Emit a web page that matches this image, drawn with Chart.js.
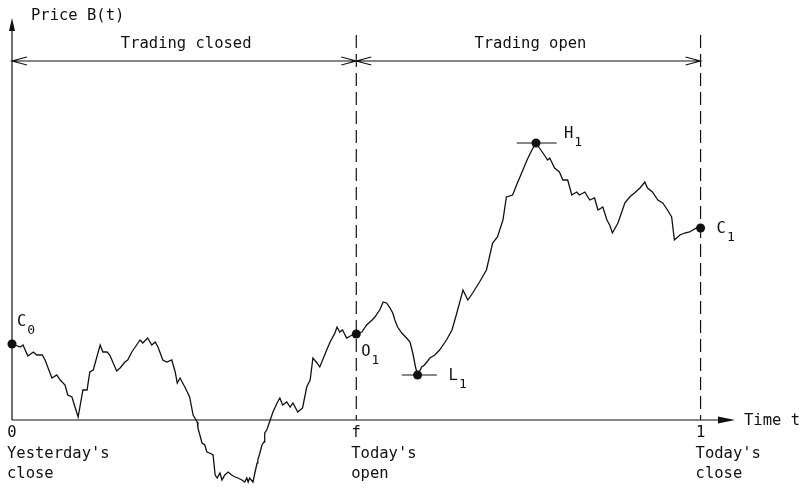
<!DOCTYPE html>
<html>
<head>
<meta charset="utf-8">
<style>
  body { margin: 0; background: #fff; }
</style>
</head>
<body>
<canvas id="priceChart" width="801" height="491"></canvas>
<script src="https://cdnjs.cloudflare.com/ajax/libs/Chart.js/4.4.1/chart.umd.min.js"></script>
<script>
// price path
// t: fraction of a day (0 = yesterday's close, f = 0.5 today's open, 1 = today's close)
var pathT = [0, 0.012, 0.016, 0.023, 0.031, 0.036, 0.044, 0.048, 0.058, 0.065,
  0.070, 0.077, 0.081, 0.087, 0.096, 0.103, 0.109, 0.113, 0.118, 0.128,
  0.132, 0.138, 0.142, 0.152, 0.157, 0.164, 0.168, 0.174, 0.181, 0.186,
  0.190, 0.197, 0.203, 0.208, 0.212, 0.219, 0.225, 0.232, 0.237, 0.240,
  0.244, 0.251, 0.258, 0.263, 0.269, 0.270, 0.276, 0.280, 0.283, 0.287,
  0.292, 0.295, 0.298, 0.302, 0.305, 0.309, 0.314, 0.319, 0.324, 0.328,
  0.334, 0.338, 0.341, 0.343, 0.345, 0.350, 0.353, 0.356, 0.357, 0.360,
  0.363, 0.366, 0.367, 0.370, 0.375, 0.379, 0.385, 0.389, 0.393, 0.399,
  0.404, 0.408, 0.415, 0.422, 0.428, 0.433, 0.437, 0.443, 0.447, 0.457,
  0.462, 0.469, 0.472, 0.476, 0.480, 0.486, 0.494, 0.500,
  0.508, 0.515, 0.523, 0.527, 0.534, 0.539, 0.544, 0.549, 0.553, 0.556,
  0.560, 0.566, 0.573, 0.578, 0.582, 0.586, 0.589,
  0.595, 0.599, 0.607, 0.614, 0.621, 0.631, 0.639, 0.646, 0.655, 0.662,
  0.669, 0.679, 0.689, 0.698, 0.705, 0.713, 0.718, 0.727, 0.734, 0.742,
  0.748, 0.755, 0.761,
  0.766, 0.771, 0.778, 0.781, 0.788, 0.795, 0.800, 0.807, 0.813, 0.820,
  0.824, 0.832, 0.839, 0.846, 0.851, 0.858, 0.864, 0.868, 0.872, 0.880,
  0.890, 0.897, 0.904, 0.912, 0.919, 0.923, 0.930, 0.938, 0.945, 0.952,
  0.958, 0.962, 0.970, 0.977, 0.984, 0.994, 1.000];
var pathB = [0.76, 0.73, 0.75, 0.64, 0.68, 0.65, 0.65, 0.60, 0.42, 0.45,
  0.40, 0.35, 0.25, 0.23, 0.03, 0.30, 0.30, 0.48, 0.50, 0.75,
  0.68, 0.68, 0.65, 0.49, 0.52, 0.58, 0.60, 0.68, 0.75, 0.80,
  0.77, 0.82, 0.75, 0.78, 0.73, 0.60, 0.58, 0.60, 0.48, 0.37,
  0.42, 0.33, 0.23, 0.05, -0.02, -0.08, -0.23, -0.25, -0.32, -0.33,
  -0.35, -0.55, -0.58, -0.53, -0.60, -0.55, -0.52, -0.55, -0.57, -0.58,
  -0.60, -0.62, -0.58, -0.62, -0.58, -0.62, -0.52, -0.43, -0.40, -0.33,
  -0.25, -0.22, -0.13, -0.10, 0.00, 0.08, 0.17, 0.22, 0.15, 0.18,
  0.13, 0.17, 0.08, 0.12, 0.33, 0.40, 0.62, 0.57, 0.53, 0.70,
  0.78, 0.87, 0.93, 0.88, 0.90, 0.82, 0.85, 0.86,
  0.88, 0.95, 1.00, 1.03, 1.10, 1.18, 1.17, 1.12, 1.07, 1.00,
  0.93, 0.87, 0.82, 0.78, 0.67, 0.53, 0.45,
  0.53, 0.55, 0.62, 0.65, 0.70, 0.80, 0.90, 1.07, 1.30, 1.20,
  1.27, 1.38, 1.50, 1.77, 1.83, 2.00, 2.23, 2.25, 2.37, 2.50,
  2.60, 2.70, 2.77,
  2.72, 2.67, 2.60, 2.62, 2.52, 2.48, 2.40, 2.40, 2.25, 2.28,
  2.25, 2.28, 2.20, 2.22, 2.10, 2.13, 2.00, 1.95, 1.87, 1.97,
  2.17, 2.23, 2.27, 2.32, 2.38, 2.32, 2.28, 2.20, 2.17, 2.10,
  2.03, 1.80, 1.85, 1.87, 1.88, 1.92, 1.92];

// the marked prices: yesterday's close, today's open, low, high, today's close
var markNames = ['C', 'O', 'L', 'H', 'C'];
var markSubs = ['0', '1', '1', '1', '1'];
var markT = [0, 0.5, 0.589, 0.761, 1];
var markB = [0.76, 0.86, 0.45, 2.77, 1.92];

// short horizontal bars through the low and the high
var lowBarT = [0.566, 0.617];
var highBarT = [0.733, 0.791];

// time axis ticks
var tickT = [0, 0.5, 1];
var tickLabels = ['0', 'f', '1'];
var tickNotes = [["Yesterday's", 'close'], ["Today's", 'open'], ["Today's", 'close']];

// trading periods along the top
var periodStart = [0, 0.5];
var periodEnd = [0.5, 1];
var periodNames = ['Trading closed', 'Trading open'];
var dividerT = [0.5, 1];

// layout / style (pixels and levels, not data)
var INK = '#111';
var FONT = '15.5px "DejaVu Sans Mono", monospace';
var SUBFONT = '13px "DejaVu Sans Mono", monospace';
var periodLevel = 3.59;
var dividerTop = 3.85;
var labelOffset = [[5, -18], [5, 22], [31, 5], [28, -5], [16, 5]];

var figure = {
  id: 'figure',
  beforeDatasetsDraw: function(chart) {
    var ctx = chart.ctx, xs = chart.scales.x, ys = chart.scales.y;
    var x0 = xs.getPixelForValue(0), y0 = ys.getPixelForValue(0);
    var xEnd = xs.getPixelForValue(xs.max), yTop = ys.getPixelForValue(ys.max);
    ctx.save();
    ctx.strokeStyle = INK;
    ctx.fillStyle = INK;
    ctx.lineWidth = 1.2;

    // axes with filled arrowheads
    ctx.beginPath();
    ctx.moveTo(x0, y0); ctx.lineTo(xEnd - 14, y0);
    ctx.moveTo(x0, y0); ctx.lineTo(x0, yTop + 10);
    ctx.stroke();
    ctx.beginPath();
    ctx.moveTo(xEnd, y0); ctx.lineTo(xEnd - 17, y0 - 3.5); ctx.lineTo(xEnd - 17, y0 + 3.5); ctx.closePath();
    ctx.moveTo(x0, yTop); ctx.lineTo(x0 - 3, yTop + 13); ctx.lineTo(x0 + 3, yTop + 13); ctx.closePath();
    ctx.fill();

    // dashed dividers at open and close
    ctx.setLineDash([13, 6]);
    dividerT.forEach(function(t) {
      var x = xs.getPixelForValue(t);
      ctx.beginPath();
      ctx.moveTo(x, ys.getPixelForValue(dividerTop));
      ctx.lineTo(x, y0);
      ctx.stroke();
    });
    ctx.setLineDash([]);

    // period spans with open arrowheads
    var py = ys.getPixelForValue(periodLevel);
    ctx.lineWidth = 1.1;
    for (var i = 0; i < periodNames.length; i++) {
      var a = xs.getPixelForValue(periodStart[i]), b = xs.getPixelForValue(periodEnd[i]);
      ctx.beginPath();
      ctx.moveTo(a, py); ctx.lineTo(b, py);
      ctx.moveTo(a + 15, py - 4); ctx.lineTo(a, py); ctx.lineTo(a + 15, py + 4);
      ctx.moveTo(b - 15, py - 4); ctx.lineTo(b, py); ctx.lineTo(b - 15, py + 4);
      ctx.stroke();
      ctx.font = FONT;
      ctx.textAlign = 'center';
      ctx.textBaseline = 'alphabetic';
      ctx.fillText(periodNames[i], (a + b) / 2 + 2, py - 13);
    }

    // axis titles
    ctx.textAlign = 'left';
    ctx.fillText('Price B(t)', x0 + 19, yTop + 2);
    ctx.fillText('Time t', xEnd + 9, y0 + 5);

    // tick labels and notes
    for (var k = 0; k < tickT.length; k++) {
      var tx = xs.getPixelForValue(tickT[k]);
      ctx.textAlign = 'center';
      ctx.fillText(tickLabels[k], tx, y0 + 17);
      ctx.textAlign = 'left';
      ctx.fillText(tickNotes[k][0], tx - 5, y0 + 38);
      ctx.fillText(tickNotes[k][1], tx - 5, y0 + 58);
    }
    ctx.restore();
  },
  afterDatasetsDraw: function(chart) {
    var ctx = chart.ctx, xs = chart.scales.x, ys = chart.scales.y;
    ctx.save();
    ctx.fillStyle = INK;
    ctx.textAlign = 'left';
    ctx.textBaseline = 'alphabetic';
    for (var i = 0; i < markNames.length; i++) {
      var x = xs.getPixelForValue(markT[i]) + labelOffset[i][0];
      var y = ys.getPixelForValue(markB[i]) + labelOffset[i][1];
      ctx.font = FONT;
      ctx.fillText(markNames[i], x, y);
      var w = ctx.measureText(markNames[i]).width;
      ctx.font = SUBFONT;
      ctx.fillText(markSubs[i], x + w + 1, y + 8);
    }
    ctx.restore();
  }
};

function pairs(ts, bs) {
  return ts.map(function(t, i) { return { x: t, y: bs[i] }; });
}

new Chart(document.getElementById('priceChart').getContext('2d'), {
  type: 'scatter',
  data: {
    datasets: [{
      label: 'B(t)',
      data: pairs(pathT, pathB),
      showLine: true,
      borderColor: INK,
      borderWidth: 1.3,
      pointRadius: 0,
      tension: 0,
      clip: false
    }, {
      label: 'low bar',
      data: pairs(lowBarT, [markB[2], markB[2]]),
      showLine: true,
      borderColor: INK,
      borderWidth: 1.2,
      pointRadius: 0,
      clip: false
    }, {
      label: 'high bar',
      data: pairs(highBarT, [markB[3], markB[3]]),
      showLine: true,
      borderColor: INK,
      borderWidth: 1.2,
      pointRadius: 0,
      clip: false
    }, {
      label: 'marks',
      data: pairs(markT, markB),
      pointRadius: 4.5,
      pointBackgroundColor: INK,
      pointBorderColor: INK,
      pointBorderWidth: 0,
      clip: false
    }]
  },
  options: {
    responsive: false,
    animation: false,
    events: [],
    layout: { autoPadding: false, padding: { left: 12, right: 66, top: 18, bottom: 1 } },
    scales: {
      x: { type: 'linear', min: 0, max: 1.05, display: false },
      y: { type: 'linear', min: -0.70, max: 4.02, display: false }
    },
    plugins: {
      legend: { display: false },
      tooltip: { enabled: false }
    }
  },
  plugins: [figure]
});
</script>
</body>
</html>
